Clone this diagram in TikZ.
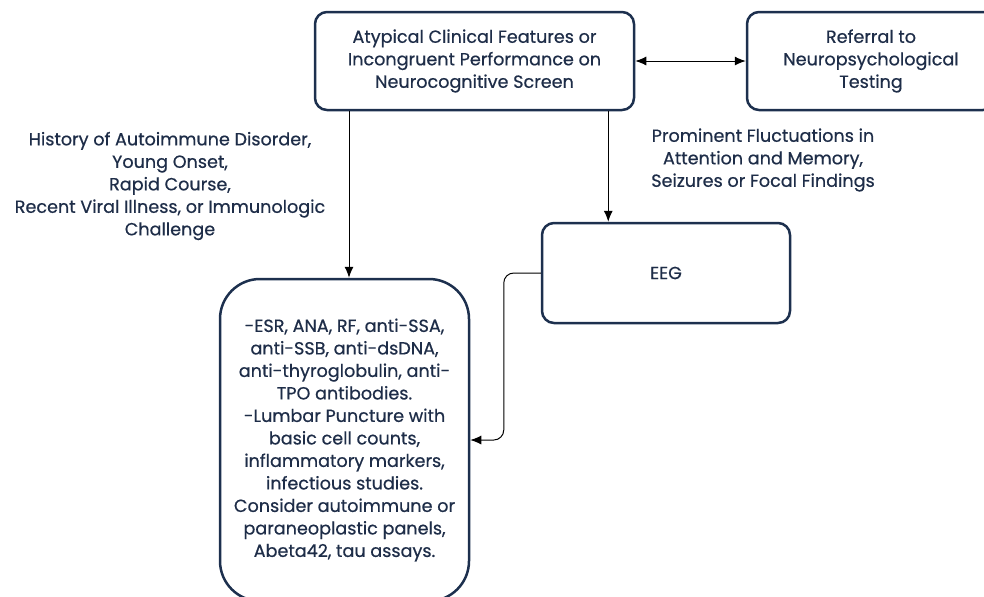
\documentclass[tikz,border=0pt]{standalone}
\usepackage{fontspec}
\setmainfont{Poppins}
\newfontfamily\diagfont{Poppins}[FakeBold=0.6]
\usetikzlibrary{arrows.meta, positioning}
\definecolor{navy}{RGB}{30,45,72}
\definecolor{boxline}{RGB}{29,48,78}

\begin{document}
\begin{tikzpicture}[x=0.5pt, y=-0.5pt,
  every node/.style={font=\diagfont\fontsize{8.8}{11.25}\selectfont, text=navy, align=center},
  stepbox/.style={draw=boxline, line width=1.25pt, rounded corners=6pt, inner sep=0pt},
  link/.style={draw=black, line width=0.5pt, -{Latex[length=5.5pt, width=4.5pt]}}]
  \clip (0,0) rectangle (984,596);
  \useasboundingbox (0,0) rectangle (984,596);
  \coordinate (atyp) at (474.5,61);
  \coordinate (refer) at (871,61);
  \coordinate (eeg) at (666,273);
  \coordinate (labs) at (344.5,440);
  \node[stepbox, minimum width=159.5pt, minimum height=49pt] (A) at (atyp) {Atypical Clinical Features or\\Incongruent Performance on\\Neurocognitive Screen};
  \node[stepbox, minimum width=124pt, minimum height=49pt] (R) at (refer) {Referral to\\Neuropsychological\\Testing};
  \node[stepbox, minimum width=124pt, minimum height=50pt] (E) at (eeg) {EEG};
  \node[stepbox, rounded corners=20pt, minimum width=124.5pt, minimum height=161pt] (L) at (labs) {{-}ESR, ANA, RF, anti-SSA,\\anti-SSB, anti-dsDNA,\\anti-thyroglobulin, anti-\\TPO antibodies.\\{-}Lumbar Puncture with\\basic cell counts,\\inflammatory markers,\\infectious studies.\\Consider autoimmune or\\paraneoplastic panels,\\Abeta42, tau assays.};
  \node (hist) at (170,186) {History of Autoimmune Disorder,\\Young Onset,\\Rapid Course,\\Recent Viral Illness, or Immunologic\\Challenge};
  \node (fluct) at (763,160) {Prominent Fluctuations in\\Attention and Memory,\\Seizures or Focal Findings};
  \draw[link, {Latex[length=5.5pt, width=4.5pt]}-{Latex[length=5.5pt, width=4.5pt]}] (A.east) -- (R.west);
  \draw[link] ([xshift=2.25pt]A.south -| L.north) -- ([xshift=2.25pt]L.north);
  \draw[link] ([xshift=-13.5pt]A.south east) -- ([xshift=-13.5pt]A.south east |- E.north);
  \draw[link, rounded corners=5pt] (E.west) -- ++(-37,0) |- (L.east);
\end{tikzpicture}
\end{document}
